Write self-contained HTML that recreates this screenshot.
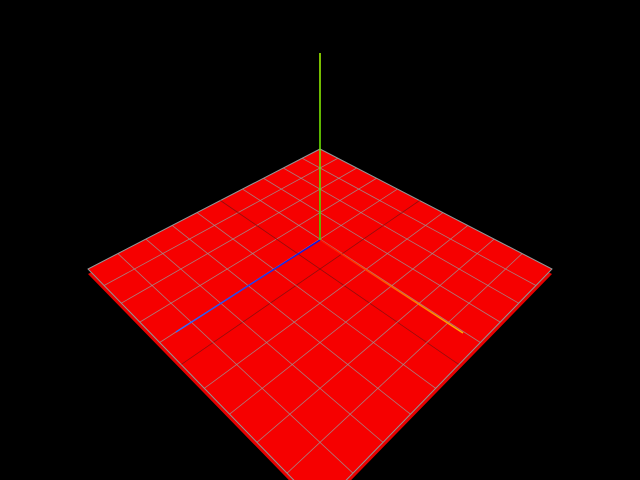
<!DOCTYPE html>
<html><head><meta charset="utf-8"><style>
html,body{margin:0;padding:0;background:#000;width:640px;height:480px;overflow:hidden}
svg{display:block}
</style></head><body>
<svg id="scene" width="640" height="480" viewBox="0 0 640 480" xmlns="http://www.w3.org/2000/svg">
<defs>
<linearGradient id="gb" x1="320" y1="240" x2="176" y2="332" gradientUnits="userSpaceOnUse"><stop offset="0" stop-color="#1010e0"/><stop offset="1" stop-color="#3070ff"/></linearGradient>
<linearGradient id="go" x1="320" y1="240" x2="463" y2="333" gradientUnits="userSpaceOnUse"><stop offset="0" stop-color="#ff1000"/><stop offset="1" stop-color="#ffb000"/></linearGradient>
<linearGradient id="gg" x1="320" y1="240" x2="320" y2="53" gradientUnits="userSpaceOnUse"><stop offset="0" stop-color="#33dd00"/><stop offset="1" stop-color="#aaff00"/></linearGradient>
</defs>
<g id="plane"></g>
</svg>
<script>
const gridDivisions = [0,1,2,3,4,5,6,7,8,9,10];
const corners = [[320,149],[552,269],[320,507],[88,269]];
const axisEnds = {x:[463,333], y:[320,53], z:[176,332], o:[320,240]};
const NS='http://www.w3.org/2000/svg';
const [p0,p1,p2,p3]=corners;
const dx1=p1[0]-p2[0],dx2=p3[0]-p2[0],dx3=p0[0]-p1[0]+p2[0]-p3[0];
const dy1=p1[1]-p2[1],dy2=p3[1]-p2[1],dy3=p0[1]-p1[1]+p2[1]-p3[1];
const den=dx1*dy2-dx2*dy1;
const hg=(dx3*dy2-dx2*dy3)/den,hh=(dx1*dy3-dx3*dy1)/den;
const ha=p1[0]-p0[0]+hg*p1[0],hb=p3[0]-p0[0]+hh*p3[0],hc=p0[0];
const hd=p1[1]-p0[1]+hg*p1[1],he=p3[1]-p0[1]+hh*p3[1],hf=p0[1];
function proj(u,v){const w=hg*u+hh*v+1;return [(ha*u+hb*v+hc)/w,(hd*u+he*v+hf)/w];}
const planeRoot=document.getElementById('plane');
function mk(tag,attrs){const el=document.createElementNS(NS,tag);for(const k in attrs)el.setAttribute(k,attrs[k]);planeRoot.appendChild(el);return el;}
const pts=corners.map(p=>p.join(',')).join(' ');
const sideFace=mk('polygon',{points:corners.map(p=>p[0]+','+(p[1]+5)).join(' '),fill:'#e80000'});


const topFace=mk('polygon',{points:pts,fill:'#f60000',stroke:'#888',"stroke-width":1});


const n=gridDivisions[gridDivisions.length-1];
gridDivisions.forEach(i=>{
  const t=i/n;
  const col=(i===n/2)?'#7a1010':'#999';
  const A=proj(t,0),B=proj(t,1);
  const l1=mk('line',{x1:A[0],y1:A[1],x2:B[0],y2:B[1],stroke:col,"stroke-width":0.8,"stroke-opacity":0.8});
  
  
  const C=proj(0,t),D=proj(1,t);
  const l2=mk('line',{x1:C[0],y1:C[1],x2:D[0],y2:D[1],stroke:col,"stroke-width":0.8,"stroke-opacity":0.8});
  
  
});
const o=axisEnds.o;
const ax=mk('line',{x1:o[0],y1:o[1],x2:axisEnds.x[0],y2:axisEnds.x[1],stroke:'url(#go)',"stroke-width":1.5});


const az=mk('line',{x1:o[0],y1:o[1],x2:axisEnds.z[0],y2:axisEnds.z[1],stroke:'url(#gb)',"stroke-width":1.5});


const ay=mk('line',{x1:o[0],y1:o[1],x2:axisEnds.y[0],y2:axisEnds.y[1],stroke:'url(#gg)',"stroke-width":1.5});


</script>
</body></html>
